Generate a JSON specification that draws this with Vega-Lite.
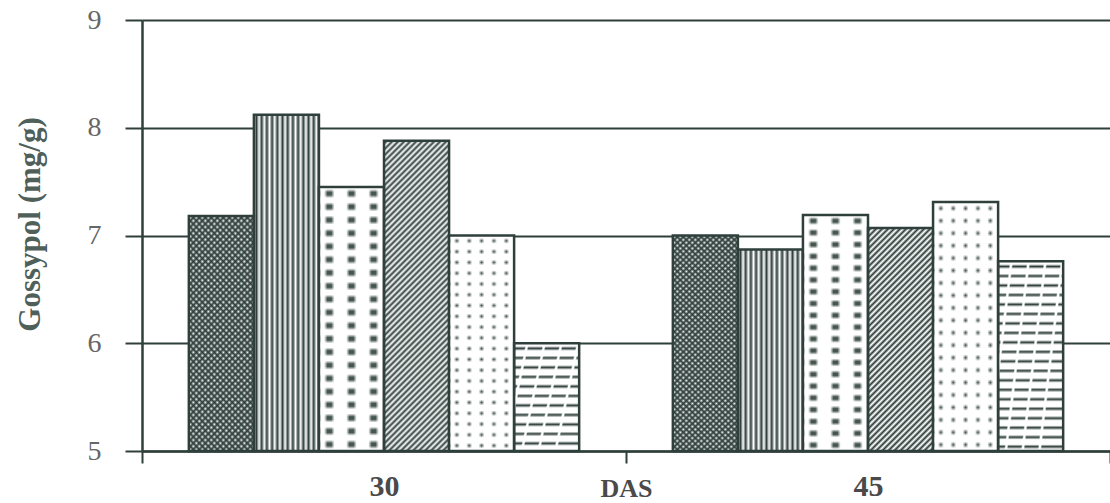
{
  "$schema": "https://vega.github.io/schema/vega-lite/v6.json",
  "width": 968,
  "height": 431,
  "autosize": "none",
  "padding": {"left": 142, "top": 20, "right": 0, "bottom": 52},
  "background": "#ffffff",
  "config": {"view": {"stroke": null}},
  "data": {
    "values": [
      {"das": "30", "trt": "T1", "v": 7.18},
      {"das": "30", "trt": "T2", "v": 8.12},
      {"das": "30", "trt": "T3", "v": 7.45},
      {"das": "30", "trt": "T4", "v": 7.88},
      {"das": "30", "trt": "T5", "v": 7.0},
      {"das": "30", "trt": "T6", "v": 6.0},
      {"das": "45", "trt": "T1", "v": 7.0},
      {"das": "45", "trt": "T2", "v": 6.87},
      {"das": "45", "trt": "T3", "v": 7.19},
      {"das": "45", "trt": "T4", "v": 7.07},
      {"das": "45", "trt": "T5", "v": 7.31},
      {"das": "45", "trt": "T6", "v": 6.76}
    ]
  },
  "encoding": {
    "x": {
      "field": "das", "type": "nominal",
      "scale": {"paddingInner": 0, "paddingOuter": 0},
      "axis": {
        "labelAngle": 0, "tickBand": "extent", "tickSize": 12, "tickWidth": 2, "tickColor": "#2f3f3b",
        "domainColor": "#2f3f3b", "domainWidth": 2.5,
        "labelFont": "Liberation Serif", "labelFontSize": 30, "labelFontWeight": "bold", "labelColor": "#4a4a4a",
        "labelPadding": 8, "labelDx": -8,
        "title": "DAS", "titleFont": "Liberation Serif", "titleFontSize": 26, "titleFontWeight": "bold",
        "titleColor": "#4a4a4a", "titleY": 45, "titleBaseline": "alphabetic"
      }
    },
    "xOffset": {"field": "trt", "type": "nominal", "scale": {"paddingInner": 0, "paddingOuter": 0.72}},
    "y": {
      "field": "v", "type": "quantitative",
      "scale": {"domain": [5, 9], "nice": false, "zero": false},
      "axis": {
        "values": [5, 6, 7, 8, 9], "format": "d",
        "grid": true, "gridColor": "#2f3f3b", "gridWidth": 2, "gridOpacity": 1,
        "domainColor": "#2f3f3b", "domainWidth": 2.5,
        "tickColor": "#2f3f3b", "tickSize": 17, "tickWidth": 2,
        "labelFont": "Liberation Serif", "labelFontSize": 28, "labelColor": "#666666", "labelPadding": 24,
        "title": "Gossypol (mg/g)", "titleFont": "Liberation Serif", "titleFontSize": 31, "titleFontWeight": "bold",
        "titleColor": "#4f5f5a", "titleAngle": 270, "titleX": -112, "titleY": 204,
        "titleAlign": "center", "titleBaseline": "middle"
      }
    },
    "y2": {"datum": 5}
  },
  "layer": [
    {
      "mark": {"type": "bar"},
      "encoding": {
        "fill": {
          "condition": [
            {"test": "datum.trt === 'T1'", "value": {"gradient": "linear", "x1": 0, "y1": 0, "x2": 0.3557, "y2": 1.2304, "stops": [
              {"offset":0,"color":"#2f3f3b"},{"offset":0.01,"color":"#fff"},{"offset":0.02,"color":"#2f3f3b"},{"offset":0.03,"color":"#fff"},{"offset":0.04,"color":"#2f3f3b"},{"offset":0.05,"color":"#fff"},{"offset":0.06,"color":"#2f3f3b"},{"offset":0.07,"color":"#fff"},{"offset":0.08,"color":"#2f3f3b"},{"offset":0.09,"color":"#fff"},
              {"offset":0.1,"color":"#2f3f3b"},{"offset":0.11,"color":"#fff"},{"offset":0.12,"color":"#2f3f3b"},{"offset":0.13,"color":"#fff"},{"offset":0.14,"color":"#2f3f3b"},{"offset":0.15,"color":"#fff"},{"offset":0.16,"color":"#2f3f3b"},{"offset":0.17,"color":"#fff"},{"offset":0.18,"color":"#2f3f3b"},{"offset":0.19,"color":"#fff"},
              {"offset":0.2,"color":"#2f3f3b"},{"offset":0.21,"color":"#fff"},{"offset":0.22,"color":"#2f3f3b"},{"offset":0.23,"color":"#fff"},{"offset":0.24,"color":"#2f3f3b"},{"offset":0.25,"color":"#fff"},{"offset":0.26,"color":"#2f3f3b"},{"offset":0.27,"color":"#fff"},{"offset":0.28,"color":"#2f3f3b"},{"offset":0.29,"color":"#fff"},
              {"offset":0.3,"color":"#2f3f3b"},{"offset":0.31,"color":"#fff"},{"offset":0.32,"color":"#2f3f3b"},{"offset":0.33,"color":"#fff"},{"offset":0.34,"color":"#2f3f3b"},{"offset":0.35,"color":"#fff"},{"offset":0.36,"color":"#2f3f3b"},{"offset":0.37,"color":"#fff"},{"offset":0.38,"color":"#2f3f3b"},{"offset":0.39,"color":"#fff"},
              {"offset":0.4,"color":"#2f3f3b"},{"offset":0.41,"color":"#fff"},{"offset":0.42,"color":"#2f3f3b"},{"offset":0.43,"color":"#fff"},{"offset":0.44,"color":"#2f3f3b"},{"offset":0.45,"color":"#fff"},{"offset":0.46,"color":"#2f3f3b"},{"offset":0.47,"color":"#fff"},{"offset":0.48,"color":"#2f3f3b"},{"offset":0.49,"color":"#fff"},
              {"offset":0.5,"color":"#2f3f3b"},{"offset":0.51,"color":"#fff"},{"offset":0.52,"color":"#2f3f3b"},{"offset":0.53,"color":"#fff"},{"offset":0.54,"color":"#2f3f3b"},{"offset":0.55,"color":"#fff"},{"offset":0.56,"color":"#2f3f3b"},{"offset":0.57,"color":"#fff"},{"offset":0.58,"color":"#2f3f3b"},{"offset":0.59,"color":"#fff"},
              {"offset":0.6,"color":"#2f3f3b"},{"offset":0.61,"color":"#fff"},{"offset":0.62,"color":"#2f3f3b"},{"offset":0.63,"color":"#fff"},{"offset":0.64,"color":"#2f3f3b"},{"offset":0.65,"color":"#fff"},{"offset":0.66,"color":"#2f3f3b"},{"offset":0.67,"color":"#fff"},{"offset":0.68,"color":"#2f3f3b"},{"offset":0.69,"color":"#fff"},
              {"offset":0.7,"color":"#2f3f3b"},{"offset":0.71,"color":"#fff"},{"offset":0.72,"color":"#2f3f3b"},{"offset":0.73,"color":"#fff"},{"offset":0.74,"color":"#2f3f3b"},{"offset":0.75,"color":"#fff"},{"offset":0.76,"color":"#2f3f3b"},{"offset":0.77,"color":"#fff"},{"offset":0.78,"color":"#2f3f3b"},{"offset":0.79,"color":"#fff"},
              {"offset":0.8,"color":"#2f3f3b"},{"offset":0.81,"color":"#fff"},{"offset":0.82,"color":"#2f3f3b"},{"offset":0.83,"color":"#fff"},{"offset":0.84,"color":"#2f3f3b"},{"offset":0.85,"color":"#fff"},{"offset":0.86,"color":"#2f3f3b"},{"offset":0.87,"color":"#fff"},{"offset":0.88,"color":"#2f3f3b"},{"offset":0.89,"color":"#fff"},
              {"offset":0.9,"color":"#2f3f3b"},{"offset":0.91,"color":"#fff"},{"offset":0.92,"color":"#2f3f3b"},{"offset":0.93,"color":"#fff"},{"offset":0.94,"color":"#2f3f3b"},{"offset":0.95,"color":"#fff"},{"offset":0.96,"color":"#2f3f3b"},{"offset":0.97,"color":"#fff"},{"offset":0.98,"color":"#2f3f3b"},{"offset":0.99,"color":"#fff"},
              {"offset":1,"color":"#2f3f3b"}
            ]}},
            {"test": "datum.trt === 'T2'", "value": {"gradient": "linear", "x1": 0, "y1": 0, "x2": 1, "y2": 0, "stops": [
              {"offset":0,"color":"#fff"},{"offset":0.04,"color":"#2f3f3b"},{"offset":0.08,"color":"#fff"},{"offset":0.12,"color":"#2f3f3b"},{"offset":0.16,"color":"#fff"},{"offset":0.2,"color":"#2f3f3b"},{"offset":0.24,"color":"#fff"},{"offset":0.28,"color":"#2f3f3b"},{"offset":0.32,"color":"#fff"},{"offset":0.36,"color":"#2f3f3b"},
              {"offset":0.4,"color":"#fff"},{"offset":0.44,"color":"#2f3f3b"},{"offset":0.48,"color":"#fff"},{"offset":0.52,"color":"#2f3f3b"},{"offset":0.56,"color":"#fff"},{"offset":0.6,"color":"#2f3f3b"},{"offset":0.64,"color":"#fff"},{"offset":0.68,"color":"#2f3f3b"},{"offset":0.72,"color":"#fff"},{"offset":0.76,"color":"#2f3f3b"},
              {"offset":0.8,"color":"#fff"},{"offset":0.84,"color":"#2f3f3b"},{"offset":0.88,"color":"#fff"},{"offset":0.92,"color":"#2f3f3b"},{"offset":0.96,"color":"#fff"},{"offset":1,"color":"#2f3f3b"}
            ]}},
            {"test": "datum.trt === 'T3'", "value": {"gradient": "linear", "x1": 0, "y1": 0, "x2": 1, "y2": 0, "stops": [
              {"offset":0,"color":"#fff"},{"offset":0.08,"color":"#fff"},{"offset":0.13,"color":"#46564f"},{"offset":0.19,"color":"#46564f"},{"offset":0.24,"color":"#fff"},
              {"offset":0.42,"color":"#fff"},{"offset":0.47,"color":"#46564f"},{"offset":0.53,"color":"#46564f"},{"offset":0.58,"color":"#fff"},
              {"offset":0.76,"color":"#fff"},{"offset":0.81,"color":"#46564f"},{"offset":0.87,"color":"#46564f"},{"offset":0.92,"color":"#fff"},{"offset":1,"color":"#fff"}
            ]}},
            {"test": "datum.trt === 'T4' && datum.das === '30'", "value": {"gradient": "linear", "x1": 0, "y1": 0, "x2": 0.2427, "y2": 1.1576, "stops": [
              {"offset":0,"color":"#fff"},{"offset":0.008,"color":"#2f3f3b"},{"offset":0.016,"color":"#fff"},{"offset":0.024,"color":"#2f3f3b"},{"offset":0.032,"color":"#fff"},{"offset":0.04,"color":"#2f3f3b"},{"offset":0.048,"color":"#fff"},{"offset":0.056,"color":"#2f3f3b"},{"offset":0.064,"color":"#fff"},{"offset":0.072,"color":"#2f3f3b"},
              {"offset":0.08,"color":"#fff"},{"offset":0.088,"color":"#2f3f3b"},{"offset":0.096,"color":"#fff"},{"offset":0.104,"color":"#2f3f3b"},{"offset":0.112,"color":"#fff"},{"offset":0.12,"color":"#2f3f3b"},{"offset":0.128,"color":"#fff"},{"offset":0.136,"color":"#2f3f3b"},{"offset":0.144,"color":"#fff"},{"offset":0.152,"color":"#2f3f3b"},
              {"offset":0.16,"color":"#fff"},{"offset":0.168,"color":"#2f3f3b"},{"offset":0.176,"color":"#fff"},{"offset":0.184,"color":"#2f3f3b"},{"offset":0.192,"color":"#fff"},{"offset":0.2,"color":"#2f3f3b"},{"offset":0.208,"color":"#fff"},{"offset":0.216,"color":"#2f3f3b"},{"offset":0.224,"color":"#fff"},{"offset":0.232,"color":"#2f3f3b"},
              {"offset":0.24,"color":"#fff"},{"offset":0.248,"color":"#2f3f3b"},{"offset":0.256,"color":"#fff"},{"offset":0.264,"color":"#2f3f3b"},{"offset":0.272,"color":"#fff"},{"offset":0.28,"color":"#2f3f3b"},{"offset":0.288,"color":"#fff"},{"offset":0.296,"color":"#2f3f3b"},{"offset":0.304,"color":"#fff"},{"offset":0.312,"color":"#2f3f3b"},
              {"offset":0.32,"color":"#fff"},{"offset":0.328,"color":"#2f3f3b"},{"offset":0.336,"color":"#fff"},{"offset":0.344,"color":"#2f3f3b"},{"offset":0.352,"color":"#fff"},{"offset":0.36,"color":"#2f3f3b"},{"offset":0.368,"color":"#fff"},{"offset":0.376,"color":"#2f3f3b"},{"offset":0.384,"color":"#fff"},{"offset":0.392,"color":"#2f3f3b"},
              {"offset":0.4,"color":"#fff"},{"offset":0.408,"color":"#2f3f3b"},{"offset":0.416,"color":"#fff"},{"offset":0.424,"color":"#2f3f3b"},{"offset":0.432,"color":"#fff"},{"offset":0.44,"color":"#2f3f3b"},{"offset":0.448,"color":"#fff"},{"offset":0.456,"color":"#2f3f3b"},{"offset":0.464,"color":"#fff"},{"offset":0.472,"color":"#2f3f3b"},
              {"offset":0.48,"color":"#fff"},{"offset":0.488,"color":"#2f3f3b"},{"offset":0.496,"color":"#fff"},{"offset":0.504,"color":"#2f3f3b"},{"offset":0.512,"color":"#fff"},{"offset":0.52,"color":"#2f3f3b"},{"offset":0.528,"color":"#fff"},{"offset":0.536,"color":"#2f3f3b"},{"offset":0.544,"color":"#fff"},{"offset":0.552,"color":"#2f3f3b"},
              {"offset":0.56,"color":"#fff"},{"offset":0.568,"color":"#2f3f3b"},{"offset":0.576,"color":"#fff"},{"offset":0.584,"color":"#2f3f3b"},{"offset":0.592,"color":"#fff"},{"offset":0.6,"color":"#2f3f3b"},{"offset":0.608,"color":"#fff"},{"offset":0.616,"color":"#2f3f3b"},{"offset":0.624,"color":"#fff"},{"offset":0.632,"color":"#2f3f3b"},
              {"offset":0.64,"color":"#fff"},{"offset":0.648,"color":"#2f3f3b"},{"offset":0.656,"color":"#fff"},{"offset":0.664,"color":"#2f3f3b"},{"offset":0.672,"color":"#fff"},{"offset":0.68,"color":"#2f3f3b"},{"offset":0.688,"color":"#fff"},{"offset":0.696,"color":"#2f3f3b"},{"offset":0.704,"color":"#fff"},{"offset":0.712,"color":"#2f3f3b"},
              {"offset":0.72,"color":"#fff"},{"offset":0.728,"color":"#2f3f3b"},{"offset":0.736,"color":"#fff"},{"offset":0.744,"color":"#2f3f3b"},{"offset":0.752,"color":"#fff"},{"offset":0.76,"color":"#2f3f3b"},{"offset":0.768,"color":"#fff"},{"offset":0.776,"color":"#2f3f3b"},{"offset":0.784,"color":"#fff"},{"offset":0.792,"color":"#2f3f3b"},
              {"offset":0.8,"color":"#fff"},{"offset":0.808,"color":"#2f3f3b"},{"offset":0.816,"color":"#fff"},{"offset":0.824,"color":"#2f3f3b"},{"offset":0.832,"color":"#fff"},{"offset":0.84,"color":"#2f3f3b"},{"offset":0.848,"color":"#fff"},{"offset":0.856,"color":"#2f3f3b"},{"offset":0.864,"color":"#fff"},{"offset":0.872,"color":"#2f3f3b"},
              {"offset":0.88,"color":"#fff"},{"offset":0.888,"color":"#2f3f3b"},{"offset":0.896,"color":"#fff"},{"offset":0.904,"color":"#2f3f3b"},{"offset":0.912,"color":"#fff"},{"offset":0.92,"color":"#2f3f3b"},{"offset":0.928,"color":"#fff"},{"offset":0.936,"color":"#2f3f3b"},{"offset":0.944,"color":"#fff"},{"offset":0.952,"color":"#2f3f3b"},
              {"offset":0.96,"color":"#fff"},{"offset":0.968,"color":"#2f3f3b"},{"offset":0.976,"color":"#fff"},{"offset":0.984,"color":"#2f3f3b"},{"offset":0.992,"color":"#fff"},{"offset":1,"color":"#2f3f3b"}
            ]}},
            {"test": "datum.trt === 'T4'", "value": {"gradient": "linear", "x1": 0, "y1": 0, "x2": 0.4521, "y2": 1.5498, "stops": [
              {"offset":0,"color":"#fff"},{"offset":0.008,"color":"#2f3f3b"},{"offset":0.016,"color":"#fff"},{"offset":0.024,"color":"#2f3f3b"},{"offset":0.032,"color":"#fff"},{"offset":0.04,"color":"#2f3f3b"},{"offset":0.048,"color":"#fff"},{"offset":0.056,"color":"#2f3f3b"},{"offset":0.064,"color":"#fff"},{"offset":0.072,"color":"#2f3f3b"},
              {"offset":0.08,"color":"#fff"},{"offset":0.088,"color":"#2f3f3b"},{"offset":0.096,"color":"#fff"},{"offset":0.104,"color":"#2f3f3b"},{"offset":0.112,"color":"#fff"},{"offset":0.12,"color":"#2f3f3b"},{"offset":0.128,"color":"#fff"},{"offset":0.136,"color":"#2f3f3b"},{"offset":0.144,"color":"#fff"},{"offset":0.152,"color":"#2f3f3b"},
              {"offset":0.16,"color":"#fff"},{"offset":0.168,"color":"#2f3f3b"},{"offset":0.176,"color":"#fff"},{"offset":0.184,"color":"#2f3f3b"},{"offset":0.192,"color":"#fff"},{"offset":0.2,"color":"#2f3f3b"},{"offset":0.208,"color":"#fff"},{"offset":0.216,"color":"#2f3f3b"},{"offset":0.224,"color":"#fff"},{"offset":0.232,"color":"#2f3f3b"},
              {"offset":0.24,"color":"#fff"},{"offset":0.248,"color":"#2f3f3b"},{"offset":0.256,"color":"#fff"},{"offset":0.264,"color":"#2f3f3b"},{"offset":0.272,"color":"#fff"},{"offset":0.28,"color":"#2f3f3b"},{"offset":0.288,"color":"#fff"},{"offset":0.296,"color":"#2f3f3b"},{"offset":0.304,"color":"#fff"},{"offset":0.312,"color":"#2f3f3b"},
              {"offset":0.32,"color":"#fff"},{"offset":0.328,"color":"#2f3f3b"},{"offset":0.336,"color":"#fff"},{"offset":0.344,"color":"#2f3f3b"},{"offset":0.352,"color":"#fff"},{"offset":0.36,"color":"#2f3f3b"},{"offset":0.368,"color":"#fff"},{"offset":0.376,"color":"#2f3f3b"},{"offset":0.384,"color":"#fff"},{"offset":0.392,"color":"#2f3f3b"},
              {"offset":0.4,"color":"#fff"},{"offset":0.408,"color":"#2f3f3b"},{"offset":0.416,"color":"#fff"},{"offset":0.424,"color":"#2f3f3b"},{"offset":0.432,"color":"#fff"},{"offset":0.44,"color":"#2f3f3b"},{"offset":0.448,"color":"#fff"},{"offset":0.456,"color":"#2f3f3b"},{"offset":0.464,"color":"#fff"},{"offset":0.472,"color":"#2f3f3b"},
              {"offset":0.48,"color":"#fff"},{"offset":0.488,"color":"#2f3f3b"},{"offset":0.496,"color":"#fff"},{"offset":0.504,"color":"#2f3f3b"},{"offset":0.512,"color":"#fff"},{"offset":0.52,"color":"#2f3f3b"},{"offset":0.528,"color":"#fff"},{"offset":0.536,"color":"#2f3f3b"},{"offset":0.544,"color":"#fff"},{"offset":0.552,"color":"#2f3f3b"},
              {"offset":0.56,"color":"#fff"},{"offset":0.568,"color":"#2f3f3b"},{"offset":0.576,"color":"#fff"},{"offset":0.584,"color":"#2f3f3b"},{"offset":0.592,"color":"#fff"},{"offset":0.6,"color":"#2f3f3b"},{"offset":0.608,"color":"#fff"},{"offset":0.616,"color":"#2f3f3b"},{"offset":0.624,"color":"#fff"},{"offset":0.632,"color":"#2f3f3b"},
              {"offset":0.64,"color":"#fff"},{"offset":0.648,"color":"#2f3f3b"},{"offset":0.656,"color":"#fff"},{"offset":0.664,"color":"#2f3f3b"},{"offset":0.672,"color":"#fff"},{"offset":0.68,"color":"#2f3f3b"},{"offset":0.688,"color":"#fff"},{"offset":0.696,"color":"#2f3f3b"},{"offset":0.704,"color":"#fff"},{"offset":0.712,"color":"#2f3f3b"},
              {"offset":0.72,"color":"#fff"},{"offset":0.728,"color":"#2f3f3b"},{"offset":0.736,"color":"#fff"},{"offset":0.744,"color":"#2f3f3b"},{"offset":0.752,"color":"#fff"},{"offset":0.76,"color":"#2f3f3b"},{"offset":0.768,"color":"#fff"},{"offset":0.776,"color":"#2f3f3b"}
            ]}},
            {"test": "datum.trt === 'T5'", "value": {"gradient": "linear", "x1": 0, "y1": 0, "x2": 1, "y2": 0, "stops": [
              {"offset":0,"color":"#fff"},{"offset":0.075,"color":"#fff"},{"offset":0.12,"color":"#3a4a45"},{"offset":0.165,"color":"#fff"},
              {"offset":0.265,"color":"#fff"},{"offset":0.31,"color":"#3a4a45"},{"offset":0.355,"color":"#fff"},
              {"offset":0.455,"color":"#fff"},{"offset":0.5,"color":"#3a4a45"},{"offset":0.545,"color":"#fff"},
              {"offset":0.645,"color":"#fff"},{"offset":0.69,"color":"#3a4a45"},{"offset":0.735,"color":"#fff"},
              {"offset":0.835,"color":"#fff"},{"offset":0.88,"color":"#3a4a45"},{"offset":0.925,"color":"#fff"},{"offset":1,"color":"#fff"}
            ]}},
            {"test": "datum.trt === 'T6' && datum.das === '30'", "value": {"gradient": "linear", "x1": 0, "y1": 0, "x2": 0, "y2": 1.7633, "stops": [
              {"offset":0.015,"color":"#fff"},{"offset":0.027,"color":"#2f3f3b"},{"offset":0.04,"color":"#fff"},
              {"offset":0.065,"color":"#fff"},{"offset":0.077,"color":"#2f3f3b"},{"offset":0.09,"color":"#fff"},
              {"offset":0.115,"color":"#fff"},{"offset":0.127,"color":"#2f3f3b"},{"offset":0.14,"color":"#fff"},
              {"offset":0.165,"color":"#fff"},{"offset":0.177,"color":"#2f3f3b"},{"offset":0.19,"color":"#fff"},
              {"offset":0.215,"color":"#fff"},{"offset":0.227,"color":"#2f3f3b"},{"offset":0.24,"color":"#fff"},
              {"offset":0.265,"color":"#fff"},{"offset":0.277,"color":"#2f3f3b"},{"offset":0.29,"color":"#fff"},
              {"offset":0.315,"color":"#fff"},{"offset":0.327,"color":"#2f3f3b"},{"offset":0.34,"color":"#fff"},
              {"offset":0.365,"color":"#fff"},{"offset":0.377,"color":"#2f3f3b"},{"offset":0.39,"color":"#fff"},
              {"offset":0.415,"color":"#fff"},{"offset":0.427,"color":"#2f3f3b"},{"offset":0.44,"color":"#fff"},
              {"offset":0.465,"color":"#fff"},{"offset":0.477,"color":"#2f3f3b"},{"offset":0.49,"color":"#fff"},
              {"offset":0.515,"color":"#fff"},{"offset":0.527,"color":"#2f3f3b"},{"offset":0.54,"color":"#fff"},
              {"offset":0.565,"color":"#fff"},{"offset":0.577,"color":"#2f3f3b"},{"offset":0.59,"color":"#fff"}
            ]}},
            {"test": "datum.trt === 'T6'", "value": {"gradient": "linear", "x1": 0, "y1": 0, "x2": 0, "y2": 1, "stops": [
              {"offset":0.015,"color":"#fff"},{"offset":0.027,"color":"#2f3f3b"},{"offset":0.04,"color":"#fff"},
              {"offset":0.065,"color":"#fff"},{"offset":0.077,"color":"#2f3f3b"},{"offset":0.09,"color":"#fff"},
              {"offset":0.115,"color":"#fff"},{"offset":0.127,"color":"#2f3f3b"},{"offset":0.14,"color":"#fff"},
              {"offset":0.165,"color":"#fff"},{"offset":0.177,"color":"#2f3f3b"},{"offset":0.19,"color":"#fff"},
              {"offset":0.215,"color":"#fff"},{"offset":0.227,"color":"#2f3f3b"},{"offset":0.24,"color":"#fff"},
              {"offset":0.265,"color":"#fff"},{"offset":0.277,"color":"#2f3f3b"},{"offset":0.29,"color":"#fff"},
              {"offset":0.315,"color":"#fff"},{"offset":0.327,"color":"#2f3f3b"},{"offset":0.34,"color":"#fff"},
              {"offset":0.365,"color":"#fff"},{"offset":0.377,"color":"#2f3f3b"},{"offset":0.39,"color":"#fff"},
              {"offset":0.415,"color":"#fff"},{"offset":0.427,"color":"#2f3f3b"},{"offset":0.44,"color":"#fff"},
              {"offset":0.465,"color":"#fff"},{"offset":0.477,"color":"#2f3f3b"},{"offset":0.49,"color":"#fff"},
              {"offset":0.515,"color":"#fff"},{"offset":0.527,"color":"#2f3f3b"},{"offset":0.54,"color":"#fff"},
              {"offset":0.565,"color":"#fff"},{"offset":0.577,"color":"#2f3f3b"},{"offset":0.59,"color":"#fff"},
              {"offset":0.615,"color":"#fff"},{"offset":0.627,"color":"#2f3f3b"},{"offset":0.64,"color":"#fff"},
              {"offset":0.665,"color":"#fff"},{"offset":0.677,"color":"#2f3f3b"},{"offset":0.69,"color":"#fff"},
              {"offset":0.715,"color":"#fff"},{"offset":0.727,"color":"#2f3f3b"},{"offset":0.74,"color":"#fff"},
              {"offset":0.765,"color":"#fff"},{"offset":0.777,"color":"#2f3f3b"},{"offset":0.79,"color":"#fff"},
              {"offset":0.815,"color":"#fff"},{"offset":0.827,"color":"#2f3f3b"},{"offset":0.84,"color":"#fff"},
              {"offset":0.865,"color":"#fff"},{"offset":0.877,"color":"#2f3f3b"},{"offset":0.89,"color":"#fff"},
              {"offset":0.915,"color":"#fff"},{"offset":0.927,"color":"#2f3f3b"},{"offset":0.94,"color":"#fff"},
              {"offset":0.965,"color":"#fff"},{"offset":0.977,"color":"#2f3f3b"},{"offset":0.99,"color":"#fff"}
            ]}}
          ],
          "value": "#fff"
        }
      }
    },
    {
      "mark": {"type": "bar", "stroke": "#2f3f3b", "strokeWidth": 2.5},
      "encoding": {
        "fill": {
          "condition": [
            {"test": "datum.trt === 'T1'", "value": {"gradient": "linear", "x1": 0, "y1": 1, "x2": 0.3557, "y2": -0.2304, "stops": [
              {"offset":0,"color":"#2f3f3b"},{"offset":0.01,"color":"#2f3f3b00"},{"offset":0.02,"color":"#2f3f3b"},{"offset":0.03,"color":"#2f3f3b00"},{"offset":0.04,"color":"#2f3f3b"},{"offset":0.05,"color":"#2f3f3b00"},{"offset":0.06,"color":"#2f3f3b"},{"offset":0.07,"color":"#2f3f3b00"},{"offset":0.08,"color":"#2f3f3b"},{"offset":0.09,"color":"#2f3f3b00"},
              {"offset":0.1,"color":"#2f3f3b"},{"offset":0.11,"color":"#2f3f3b00"},{"offset":0.12,"color":"#2f3f3b"},{"offset":0.13,"color":"#2f3f3b00"},{"offset":0.14,"color":"#2f3f3b"},{"offset":0.15,"color":"#2f3f3b00"},{"offset":0.16,"color":"#2f3f3b"},{"offset":0.17,"color":"#2f3f3b00"},{"offset":0.18,"color":"#2f3f3b"},{"offset":0.19,"color":"#2f3f3b00"},
              {"offset":0.2,"color":"#2f3f3b"},{"offset":0.21,"color":"#2f3f3b00"},{"offset":0.22,"color":"#2f3f3b"},{"offset":0.23,"color":"#2f3f3b00"},{"offset":0.24,"color":"#2f3f3b"},{"offset":0.25,"color":"#2f3f3b00"},{"offset":0.26,"color":"#2f3f3b"},{"offset":0.27,"color":"#2f3f3b00"},{"offset":0.28,"color":"#2f3f3b"},{"offset":0.29,"color":"#2f3f3b00"},
              {"offset":0.3,"color":"#2f3f3b"},{"offset":0.31,"color":"#2f3f3b00"},{"offset":0.32,"color":"#2f3f3b"},{"offset":0.33,"color":"#2f3f3b00"},{"offset":0.34,"color":"#2f3f3b"},{"offset":0.35,"color":"#2f3f3b00"},{"offset":0.36,"color":"#2f3f3b"},{"offset":0.37,"color":"#2f3f3b00"},{"offset":0.38,"color":"#2f3f3b"},{"offset":0.39,"color":"#2f3f3b00"},
              {"offset":0.4,"color":"#2f3f3b"},{"offset":0.41,"color":"#2f3f3b00"},{"offset":0.42,"color":"#2f3f3b"},{"offset":0.43,"color":"#2f3f3b00"},{"offset":0.44,"color":"#2f3f3b"},{"offset":0.45,"color":"#2f3f3b00"},{"offset":0.46,"color":"#2f3f3b"},{"offset":0.47,"color":"#2f3f3b00"},{"offset":0.48,"color":"#2f3f3b"},{"offset":0.49,"color":"#2f3f3b00"},
              {"offset":0.5,"color":"#2f3f3b"},{"offset":0.51,"color":"#2f3f3b00"},{"offset":0.52,"color":"#2f3f3b"},{"offset":0.53,"color":"#2f3f3b00"},{"offset":0.54,"color":"#2f3f3b"},{"offset":0.55,"color":"#2f3f3b00"},{"offset":0.56,"color":"#2f3f3b"},{"offset":0.57,"color":"#2f3f3b00"},{"offset":0.58,"color":"#2f3f3b"},{"offset":0.59,"color":"#2f3f3b00"},
              {"offset":0.6,"color":"#2f3f3b"},{"offset":0.61,"color":"#2f3f3b00"},{"offset":0.62,"color":"#2f3f3b"},{"offset":0.63,"color":"#2f3f3b00"},{"offset":0.64,"color":"#2f3f3b"},{"offset":0.65,"color":"#2f3f3b00"},{"offset":0.66,"color":"#2f3f3b"},{"offset":0.67,"color":"#2f3f3b00"},{"offset":0.68,"color":"#2f3f3b"},{"offset":0.69,"color":"#2f3f3b00"},
              {"offset":0.7,"color":"#2f3f3b"},{"offset":0.71,"color":"#2f3f3b00"},{"offset":0.72,"color":"#2f3f3b"},{"offset":0.73,"color":"#2f3f3b00"},{"offset":0.74,"color":"#2f3f3b"},{"offset":0.75,"color":"#2f3f3b00"},{"offset":0.76,"color":"#2f3f3b"},{"offset":0.77,"color":"#2f3f3b00"},{"offset":0.78,"color":"#2f3f3b"},{"offset":0.79,"color":"#2f3f3b00"},
              {"offset":0.8,"color":"#2f3f3b"},{"offset":0.81,"color":"#2f3f3b00"},{"offset":0.82,"color":"#2f3f3b"},{"offset":0.83,"color":"#2f3f3b00"},{"offset":0.84,"color":"#2f3f3b"},{"offset":0.85,"color":"#2f3f3b00"},{"offset":0.86,"color":"#2f3f3b"},{"offset":0.87,"color":"#2f3f3b00"},{"offset":0.88,"color":"#2f3f3b"},{"offset":0.89,"color":"#2f3f3b00"},
              {"offset":0.9,"color":"#2f3f3b"},{"offset":0.91,"color":"#2f3f3b00"},{"offset":0.92,"color":"#2f3f3b"},{"offset":0.93,"color":"#2f3f3b00"},{"offset":0.94,"color":"#2f3f3b"},{"offset":0.95,"color":"#2f3f3b00"},{"offset":0.96,"color":"#2f3f3b"},{"offset":0.97,"color":"#2f3f3b00"},{"offset":0.98,"color":"#2f3f3b"},{"offset":0.99,"color":"#2f3f3b00"},
              {"offset":1,"color":"#2f3f3b"}
            ]}},
            {"test": "datum.trt === 'T3'", "value": {"gradient": "linear", "x1": 0, "y1": 0, "x2": 0, "y2": 1, "stops": [
              {"offset":0.008,"color":"#fff"},{"offset":0.02,"color":"#fff0"},{"offset":0.03,"color":"#fff0"},{"offset":0.042,"color":"#fff"},
              {"offset":0.058,"color":"#fff"},{"offset":0.07,"color":"#fff0"},{"offset":0.08,"color":"#fff0"},{"offset":0.092,"color":"#fff"},
              {"offset":0.108,"color":"#fff"},{"offset":0.12,"color":"#fff0"},{"offset":0.13,"color":"#fff0"},{"offset":0.142,"color":"#fff"},
              {"offset":0.158,"color":"#fff"},{"offset":0.17,"color":"#fff0"},{"offset":0.18,"color":"#fff0"},{"offset":0.192,"color":"#fff"},
              {"offset":0.208,"color":"#fff"},{"offset":0.22,"color":"#fff0"},{"offset":0.23,"color":"#fff0"},{"offset":0.242,"color":"#fff"},
              {"offset":0.258,"color":"#fff"},{"offset":0.27,"color":"#fff0"},{"offset":0.28,"color":"#fff0"},{"offset":0.292,"color":"#fff"},
              {"offset":0.308,"color":"#fff"},{"offset":0.32,"color":"#fff0"},{"offset":0.33,"color":"#fff0"},{"offset":0.342,"color":"#fff"},
              {"offset":0.358,"color":"#fff"},{"offset":0.37,"color":"#fff0"},{"offset":0.38,"color":"#fff0"},{"offset":0.392,"color":"#fff"},
              {"offset":0.408,"color":"#fff"},{"offset":0.42,"color":"#fff0"},{"offset":0.43,"color":"#fff0"},{"offset":0.442,"color":"#fff"},
              {"offset":0.458,"color":"#fff"},{"offset":0.47,"color":"#fff0"},{"offset":0.48,"color":"#fff0"},{"offset":0.492,"color":"#fff"},
              {"offset":0.508,"color":"#fff"},{"offset":0.52,"color":"#fff0"},{"offset":0.53,"color":"#fff0"},{"offset":0.542,"color":"#fff"},
              {"offset":0.558,"color":"#fff"},{"offset":0.57,"color":"#fff0"},{"offset":0.58,"color":"#fff0"},{"offset":0.592,"color":"#fff"},
              {"offset":0.608,"color":"#fff"},{"offset":0.62,"color":"#fff0"},{"offset":0.63,"color":"#fff0"},{"offset":0.642,"color":"#fff"},
              {"offset":0.658,"color":"#fff"},{"offset":0.67,"color":"#fff0"},{"offset":0.68,"color":"#fff0"},{"offset":0.692,"color":"#fff"},
              {"offset":0.708,"color":"#fff"},{"offset":0.72,"color":"#fff0"},{"offset":0.73,"color":"#fff0"},{"offset":0.742,"color":"#fff"},
              {"offset":0.758,"color":"#fff"},{"offset":0.77,"color":"#fff0"},{"offset":0.78,"color":"#fff0"},{"offset":0.792,"color":"#fff"},
              {"offset":0.808,"color":"#fff"},{"offset":0.82,"color":"#fff0"},{"offset":0.83,"color":"#fff0"},{"offset":0.842,"color":"#fff"},
              {"offset":0.858,"color":"#fff"},{"offset":0.87,"color":"#fff0"},{"offset":0.88,"color":"#fff0"},{"offset":0.892,"color":"#fff"},
              {"offset":0.908,"color":"#fff"},{"offset":0.92,"color":"#fff0"},{"offset":0.93,"color":"#fff0"},{"offset":0.942,"color":"#fff"},
              {"offset":0.958,"color":"#fff"},{"offset":0.97,"color":"#fff0"},{"offset":0.98,"color":"#fff0"},{"offset":0.992,"color":"#fff"}
            ]}},
            {"test": "datum.trt === 'T5'", "value": {"gradient": "linear", "x1": 0, "y1": 0, "x2": 0, "y2": 1, "stops": [
              {"offset":0.012,"color":"#fff"},{"offset":0.025,"color":"#fff0"},{"offset":0.038,"color":"#fff"},
              {"offset":0.062,"color":"#fff"},{"offset":0.075,"color":"#fff0"},{"offset":0.088,"color":"#fff"},
              {"offset":0.112,"color":"#fff"},{"offset":0.125,"color":"#fff0"},{"offset":0.138,"color":"#fff"},
              {"offset":0.162,"color":"#fff"},{"offset":0.175,"color":"#fff0"},{"offset":0.188,"color":"#fff"},
              {"offset":0.212,"color":"#fff"},{"offset":0.225,"color":"#fff0"},{"offset":0.238,"color":"#fff"},
              {"offset":0.262,"color":"#fff"},{"offset":0.275,"color":"#fff0"},{"offset":0.288,"color":"#fff"},
              {"offset":0.312,"color":"#fff"},{"offset":0.325,"color":"#fff0"},{"offset":0.338,"color":"#fff"},
              {"offset":0.362,"color":"#fff"},{"offset":0.375,"color":"#fff0"},{"offset":0.388,"color":"#fff"},
              {"offset":0.412,"color":"#fff"},{"offset":0.425,"color":"#fff0"},{"offset":0.438,"color":"#fff"},
              {"offset":0.462,"color":"#fff"},{"offset":0.475,"color":"#fff0"},{"offset":0.488,"color":"#fff"},
              {"offset":0.512,"color":"#fff"},{"offset":0.525,"color":"#fff0"},{"offset":0.538,"color":"#fff"},
              {"offset":0.562,"color":"#fff"},{"offset":0.575,"color":"#fff0"},{"offset":0.588,"color":"#fff"},
              {"offset":0.612,"color":"#fff"},{"offset":0.625,"color":"#fff0"},{"offset":0.638,"color":"#fff"},
              {"offset":0.662,"color":"#fff"},{"offset":0.675,"color":"#fff0"},{"offset":0.688,"color":"#fff"},
              {"offset":0.712,"color":"#fff"},{"offset":0.725,"color":"#fff0"},{"offset":0.738,"color":"#fff"},
              {"offset":0.762,"color":"#fff"},{"offset":0.775,"color":"#fff0"},{"offset":0.788,"color":"#fff"},
              {"offset":0.812,"color":"#fff"},{"offset":0.825,"color":"#fff0"},{"offset":0.838,"color":"#fff"},
              {"offset":0.862,"color":"#fff"},{"offset":0.875,"color":"#fff0"},{"offset":0.888,"color":"#fff"},
              {"offset":0.912,"color":"#fff"},{"offset":0.925,"color":"#fff0"},{"offset":0.938,"color":"#fff"},
              {"offset":0.962,"color":"#fff"},{"offset":0.975,"color":"#fff0"},{"offset":0.988,"color":"#fff"}
            ]}},
            {"test": "datum.trt === 'T6'", "value": {"gradient": "linear", "x1": 0, "y1": 0, "x2": 1, "y2": 0.35, "stops": [
              {"offset":0,"color":"#fff0"},{"offset":0.155,"color":"#fff0"},{"offset":0.175,"color":"#fff"},{"offset":0.19,"color":"#fff"},{"offset":0.21,"color":"#fff0"},
              {"offset":0.39,"color":"#fff0"},{"offset":0.41,"color":"#fff"},{"offset":0.425,"color":"#fff"},{"offset":0.445,"color":"#fff0"},
              {"offset":0.62,"color":"#fff0"},{"offset":0.64,"color":"#fff"},{"offset":0.655,"color":"#fff"},{"offset":0.675,"color":"#fff0"},
              {"offset":0.85,"color":"#fff0"},{"offset":0.87,"color":"#fff"},{"offset":0.885,"color":"#fff"},{"offset":0.905,"color":"#fff0"},{"offset":1,"color":"#fff0"}
            ]}}
          ],
          "value": "#0000"
        }
      }
    }
  ]
}
